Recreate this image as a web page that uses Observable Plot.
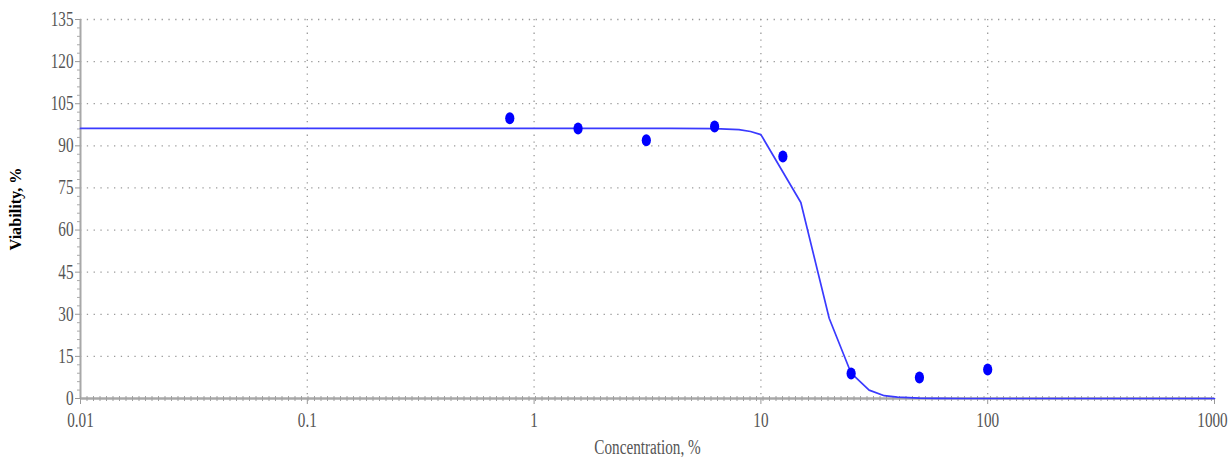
<!DOCTYPE html>
<html>
<head>
<meta charset="utf-8">
<script src="https://cdn.jsdelivr.net/npm/d3@7"></script>
<script src="https://cdn.jsdelivr.net/npm/@observablehq/plot@0.6"></script>
<style>
  html, body { margin: 0; padding: 0; background: #fff; }
  #chart svg { display: block; }
  #chart svg text { font-family: "Liberation Serif", "DejaVu Serif", serif !important; }
</style>
</head>
<body>
<div id="chart"></div>
<script>
// Measured data points
const pointConc = [0.78125, 1.5625, 3.125, 6.25, 12.5, 25, 50, 100];
const pointViab = [99.8, 96.2, 92.0, 96.9, 86.2, 8.9, 7.5, 10.3];

// Fitted curve
const curveConc = [0.01, 0.1, 1, 2, 4, 6.25, 8, 9, 10, 15, 20, 25, 30, 35, 40, 50, 60, 80, 100, 200, 500, 1000];
const curveViab = [96.2, 96.2, 96.2, 96.2, 96.2, 96.1, 95.8, 95.1, 94.0, 69.8, 28.6, 9.0, 3.0, 1.0, 0.5, 0.15, 0.05, 0, 0, 0, 0, 0];

// Axis ticks
const xTicks = [0.01, 0.1, 1, 10, 100, 1000];
const xTickLabels = ["0.01", "0.1", "1", "10", "100", "1000"];
const yTicks = [0, 15, 30, 45, 60, 75, 90, 105, 120, 135];
const yMinorTicks = [3, 6, 9, 12, 18, 21, 24, 27, 33, 36, 39, 42, 48, 51, 54, 57, 63, 66, 69, 72, 78, 81, 84, 87, 93, 96, 99, 102, 108, 111, 114, 117, 123, 126, 129, 132];

const points = pointConc.map((c, i) => ({conc: c, viab: pointViab[i]}));
const curve = curveConc.map((c, i) => ({conc: c, viab: curveViab[i]}));

const font = "Liberation Serif";

const chart = Plot.plot({
  width: 1230,
  height: 457,
  marginLeft: 80,
  marginRight: 16,
  marginTop: 19,
  marginBottom: 59,
  style: {fontFamily: font, background: "#fff"},
  x: {type: "log", domain: [0.01, 1000]},
  y: {domain: [0, 135]},
  marks: [
    Plot.gridY(yTicks.filter(d => d > 0), {stroke: "#9a9a9a", strokeOpacity: 1, strokeWidth: 1.3, strokeDasharray: "1.3,5.5"}),
    Plot.gridX(xTicks.filter(d => d > 0.01), {stroke: "#9a9a9a", strokeOpacity: 1, strokeWidth: 1.3, strokeDasharray: "1.3,5.5"}),
    // y axis line with minor ticks
    Plot.ruleX([0.01], {y1: 0, y2: 135, stroke: "#a8a8a8", strokeWidth: 2}),
    Plot.axisY({ticks: yMinorTicks, tickSize: 3, tickFormat: () => "", stroke: "#aaa", label: null}),
    Plot.axisY({ticks: yTicks, tickSize: 5, tickPadding: 2, stroke: "#999", fill: "#555", fontSize: 20,
      label: "Viability, %", labelAnchor: "center", labelArrow: false, labelOffset: 72}),
    Plot.axisX({ticks: xTicks, tickFormat: (d) => xTickLabels[xTicks.indexOf(d)], tickSize: 6, tickPadding: 8,
      stroke: "#999", fill: "#555", fontSize: 20,
      label: "Concentration, %", labelAnchor: "center", labelArrow: false, labelOffset: 55}),
    // x axis line (ruler look)
    Plot.ruleY([0], {stroke: "#a8a8a8", strokeWidth: 2.5}),
    Plot.ruleY([0], {stroke: "#a0a0a0", strokeWidth: 5, strokeDasharray: "1,5.5"}),
    Plot.line(curve, {x: "conc", y: "viab", stroke: "#3a3aff", strokeWidth: 1.7}),
    Plot.dot(points, {x: "conc", y: "viab", r: 5, fill: "#0000ff", stroke: "none"})
  ]
});

document.getElementById("chart").appendChild(chart);

// Ellipse-shaped points
d3.select(chart).selectAll("circle").each(function() {
  const c = d3.select(this);
  const cx = c.attr("cx"), cy = c.attr("cy");
  const t = c.attr("transform");
  const e = d3.select(this.parentNode).insert("ellipse", () => this)
    .attr("rx", 4.6).attr("ry", 6).attr("fill", "#0000ff");
  if (cx != null) e.attr("cx", cx).attr("cy", cy);
  if (t) e.attr("transform", t);
  c.remove();
});

// Condensed serif look for text
d3.select(chart).selectAll("text").each(function() {
  this.setAttribute("font-family", font);
  const len = this.getComputedTextLength();
  if (len > 0) {
    this.setAttribute("textLength", (len * 0.76).toFixed(1));
    this.setAttribute("lengthAdjust", "spacingAndGlyphs");
  }
});
// Keep the last x tick label inside the picture
d3.select(chart).selectAll("text").filter(function() { return this.textContent === "1000"; })
  .each(function() {
    const w = parseFloat(this.getAttribute("textLength")) || 30;
    this.setAttribute("text-anchor", "end");
    this.setAttribute("dx", (w / 2 - 2).toFixed(1));
  });
// Y label styling: bold, black, smaller
d3.select(chart).selectAll("text").filter(function() { return this.textContent === "Viability, %"; })
  .attr("font-weight", "bold").attr("fill", "#000").attr("font-size", 17)
  .each(function() {
    this.removeAttribute("textLength");
    const len = this.getComputedTextLength();
    this.setAttribute("textLength", (len * 0.95).toFixed(1));
  });
</script>
</body>
</html>
